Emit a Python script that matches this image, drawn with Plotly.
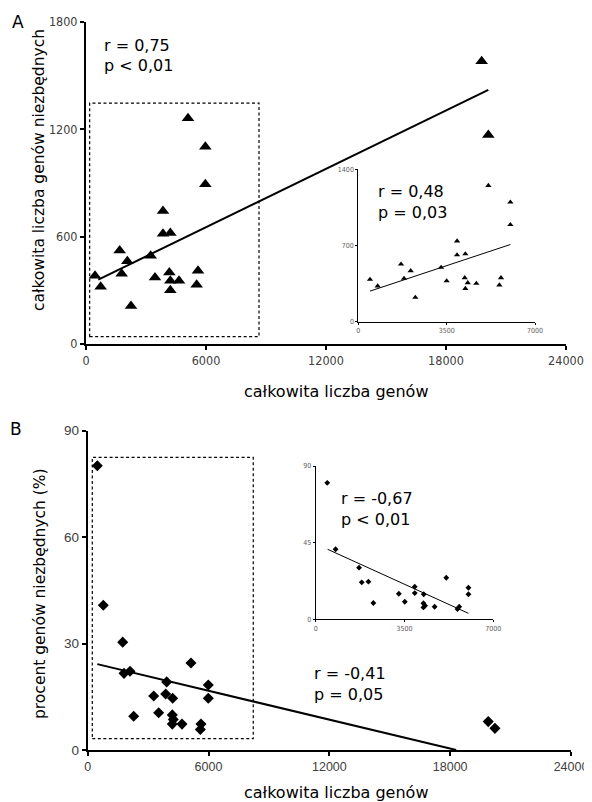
import plotly.graph_objects as go

# the page body has an 8px margin: the figure starts at (8, 8) and runs to the window edge
OFF = 8
W, H = 592 - OFF, 802 - OFF

# ---------------- data ----------------
a_total = [450, 733, 1683, 1783, 2067, 2250, 3233, 3450, 3850, 3850, 4217, 4167,
           4217, 4217, 4650, 5100, 5533, 5600, 5967, 5967, 19783, 20117]
a_essential = [382, 320, 522, 393, 462, 213, 494, 372, 743, 616, 620, 400,
               354, 301, 354, 1262, 331, 410, 1103, 893, 1580, 1168]
a_fit_x = [617, 20117]
a_fit_y = [360, 1421]

ai_total = [464, 768, 1692, 1812, 2076, 2260, 3278, 3500, 3912, 3912, 4241, 4216,
            4336, 4241, 4676, 5152, 5588, 5654, 6024, 6024]
ai_essential = [388, 327, 528, 397, 467, 223, 498, 375, 741, 613, 622, 403,
                357, 305, 351, 1251, 336, 403, 1098, 891]
ai_fit_x = [464, 6024]
ai_fit_y = [281, 709]

b_total = [477, 775, 1738, 1803, 2100, 2284, 3277, 3525, 3922, 3873, 4220, 4200,
           4250, 4200, 4682, 5129, 5625, 5593, 5988, 5988, 19890, 20222]
b_percent = [80.1, 40.8, 30.4, 21.6, 22.2, 9.5, 15.2, 10.5, 19.2, 15.8, 14.6, 9.9,
             8.6, 7.3, 7.3, 24.5, 7.3, 5.8, 18.3, 14.6, 8.0, 6.1]
b_fit_x = [477, 18300]
b_fit_y = [24.2, 0.0]

bi_total = [455, 784, 1709, 1815, 2077, 2273, 3277, 3512, 3904, 3904, 4257, 4245,
            4311, 4245, 4688, 5146, 5589, 5656, 6020, 6020]
bi_percent = [80.1, 41.1, 30.3, 21.7, 22.1, 9.6, 15.0, 10.3, 19.1, 15.4, 14.7, 9.4,
              8.0, 7.0, 7.4, 24.4, 6.0, 7.4, 18.5, 14.7]
bi_fit_x = [470, 6020]
bi_fit_y = [41.1, 3.5]

main_x_ticks = [0, 6000, 12000, 18000, 24000]
a_y_ticks = [0, 600, 1200, 1800]
b_y_ticks = [0, 30, 60, 90]
inset_x_ticks = [0, 3500, 7000]
ai_y_ticks = [0, 700, 1400]
bi_y_ticks = [0, 45, 90]

x_title = "całkowita liczba genów"
a_y_title = "całkowita liczba genów niezbędnych"
b_y_title = "procent genów niezbędnych (%)"


def px(x):
    return (x - OFF) / W


def py(y):
    return 1 - (y - OFF) / H


NARROW = "Liberation Sans Narrow, DejaVu Sans Condensed, Arial Narrow, sans-serif"
REG = "Liberation Sans, Arial, sans-serif"
TXT = "DejaVu Sans, Verdana, sans-serif"

fig = go.Figure()

# panel A main
fig.add_trace(go.Scatter(x=a_total, y=a_essential, mode="markers", xaxis="x", yaxis="y",
                         marker=dict(symbol="triangle-up", size=11, color="black"),
                         cliponaxis=False, showlegend=False))
fig.add_trace(go.Scatter(x=a_fit_x, y=a_fit_y, mode="lines", xaxis="x", yaxis="y",
                         line=dict(color="black", width=2), showlegend=False))
# panel A inset
fig.add_trace(go.Scatter(x=ai_total, y=ai_essential, mode="markers", xaxis="x2", yaxis="y2",
                         marker=dict(symbol="triangle-up", size=5.5, color="black"),
                         cliponaxis=False, showlegend=False))
fig.add_trace(go.Scatter(x=ai_fit_x, y=ai_fit_y, mode="lines", xaxis="x2", yaxis="y2",
                         line=dict(color="black", width=1), showlegend=False))
# panel B main
fig.add_trace(go.Scatter(x=b_total, y=b_percent, mode="markers", xaxis="x3", yaxis="y3",
                         marker=dict(symbol="diamond", size=8.5, color="black"),
                         cliponaxis=False, showlegend=False))
fig.add_trace(go.Scatter(x=b_fit_x, y=b_fit_y, mode="lines", xaxis="x3", yaxis="y3",
                         line=dict(color="black", width=2), cliponaxis=False, showlegend=False))
# panel B inset
fig.add_trace(go.Scatter(x=bi_total, y=bi_percent, mode="markers", xaxis="x4", yaxis="y4",
                         marker=dict(symbol="diamond", size=4.5, color="black"),
                         cliponaxis=False, showlegend=False))
fig.add_trace(go.Scatter(x=bi_fit_x, y=bi_fit_y, mode="lines", xaxis="x4", yaxis="y4",
                         line=dict(color="black", width=1), showlegend=False))


def axis(domain, rng, ticks, anchor, font, lw=2):
    return dict(domain=domain, range=rng, tickvals=ticks, ticktext=[str(t) for t in ticks],
                anchor=anchor, showline=True, linecolor="black", linewidth=lw,
                ticks="outside", ticklen=4, tickwidth=1.5, tickcolor="black",
                showgrid=False, zeroline=False, tickfont=font, fixedrange=True,
                automargin=False, ticklabeloverflow="allow")


narrow_font = dict(family=NARROW, size=12.5, color="#404040")
reg_font = dict(family=REG, size=12.5, color="#404040")
tiny_font = dict(family=NARROW, size=7, color="#606060")

layout_axes = dict(
    xaxis=axis([px(86), px(566)], [0, 24000], main_x_ticks, "y", narrow_font),
    yaxis=axis([py(344), py(22)], [0, 1800], a_y_ticks, "x", narrow_font),
    xaxis2=axis([px(358.3), px(535)], [0, 7000], inset_x_ticks, "y2", tiny_font, lw=1),
    yaxis2=axis([py(321.7), py(169.3)], [0, 1400], ai_y_ticks, "x2", tiny_font, lw=1),
    xaxis3=axis([px(87.7), px(571)], [0, 24000], main_x_ticks, "y3", reg_font),
    yaxis3=axis([py(750), py(430.7)], [0, 90], b_y_ticks, "x3",
                dict(family=REG, size=13.5, color="#404040")),
    xaxis4=axis([px(315.7), px(493.3)], [0, 7000], inset_x_ticks, "y4", tiny_font, lw=1),
    yaxis4=axis([py(619.3), py(466)], [0, 90], bi_y_ticks, "x4", tiny_font, lw=1),
)
for k in ["xaxis2", "yaxis2", "xaxis4", "yaxis4"]:
    layout_axes[k]["ticklen"] = 2
    layout_axes[k]["tickwidth"] = 1

shapes = [
    dict(type="rect", xref="x", yref="y", x0=183, x1=8650, y0=41, y1=1347,
         line=dict(color="black", width=1.2, dash="3px,2.5px")),
    dict(type="rect", xref="x3", yref="y3", x0=228, x1=8222, y0=3.2, y1=82.5,
         line=dict(color="black", width=1.2, dash="3px,2.5px")),
]


def note(x, y, text, size=16, angle=0, xanchor="left"):
    return dict(x=px(x), y=py(y), xref="paper", yref="paper", text=text, showarrow=False,
                xanchor=xanchor, yanchor="middle", textangle=angle,
                font=dict(family=TXT, size=size, color="black"))


annotations = [
    note(17.5, 22.5, "A", size=17, xanchor="center"),
    note(15.5, 429, "B", size=17, xanchor="center"),
    note(101.7, 45, "r = 0,75"),
    note(101.7, 66, "p < 0,01"),
    note(375.7, 191.7, "r = 0,48"),
    note(375.7, 212, "p = 0,03"),
    note(339.3, 498.3, "r = -0,67"),
    note(339.3, 519.3, "p < 0,01"),
    note(312.3, 673.3, "r = -0,41"),
    note(312.3, 694.5, "p = 0,05"),
    note(336, 391, x_title, size=16, xanchor="center"),
    note(336, 792, x_title, size=16, xanchor="center"),
    note(39, 170, a_y_title, size=15.5, angle=-90, xanchor="center"),
    note(40, 594, b_y_title, size=15.5, angle=-90, xanchor="center"),
]

fig.update_layout(width=W, height=H,
                  margin=dict(l=0, r=0, t=0, b=0, pad=0, autoexpand=False),
                  paper_bgcolor="white", plot_bgcolor="rgba(0,0,0,0)",
                  shapes=shapes, annotations=annotations, showlegend=False,
                  **layout_axes)

fig.write_html("out.html")
